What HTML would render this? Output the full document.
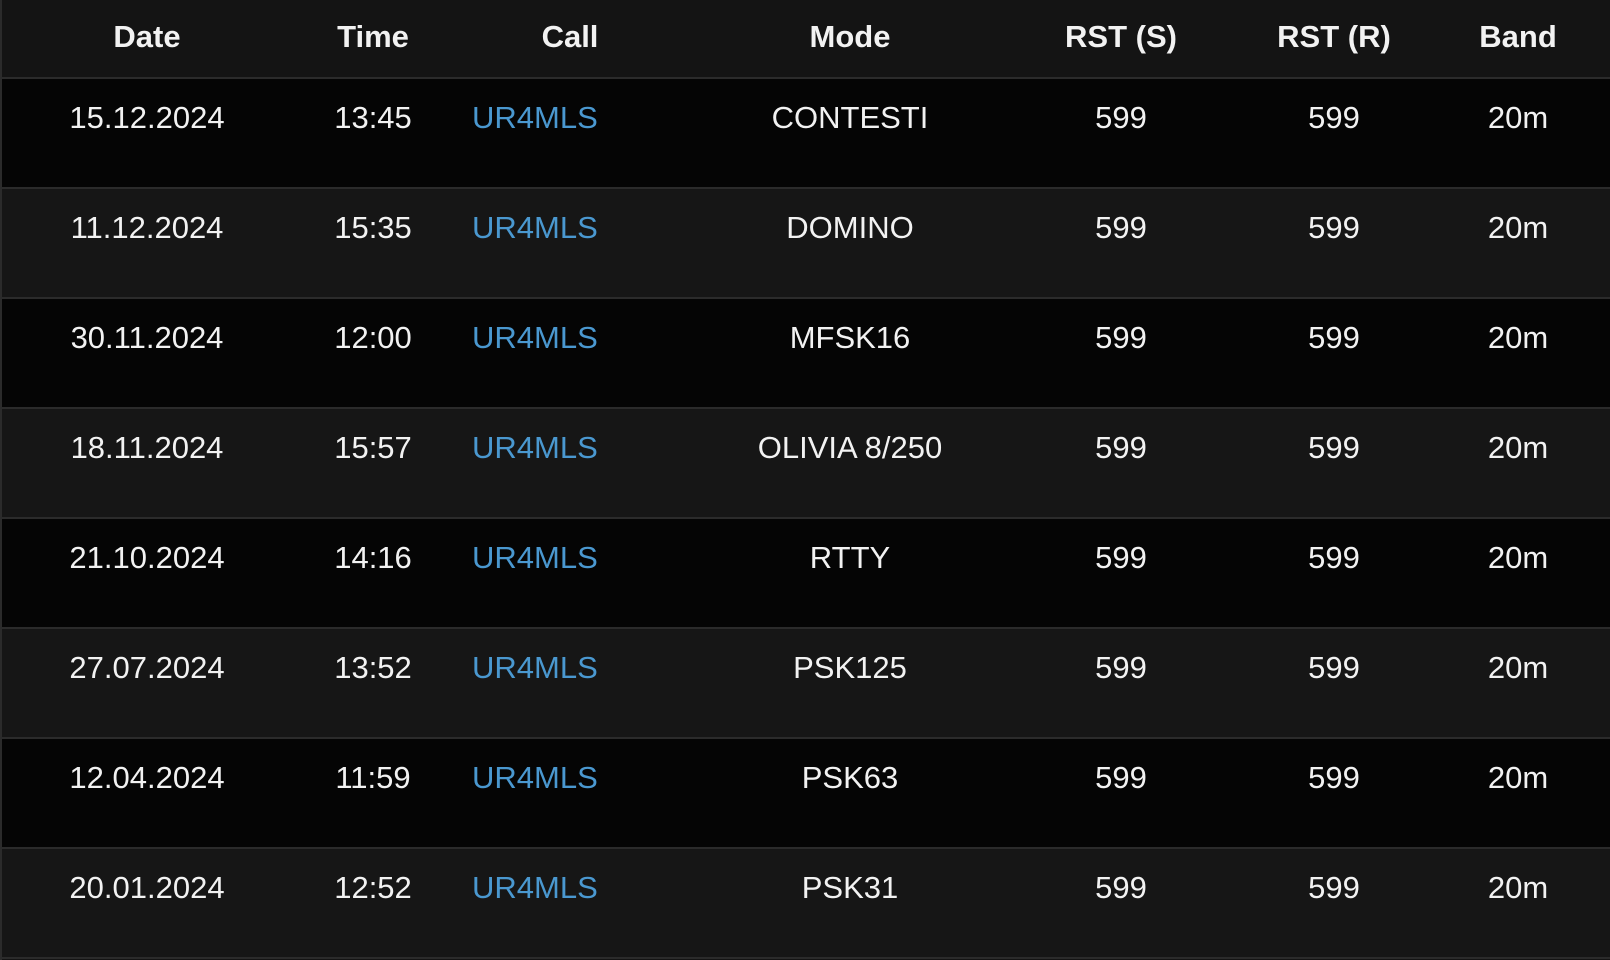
<!DOCTYPE html>
<html><head><meta charset="utf-8"><style>
html,body{margin:0;padding:0;width:1610px;height:960px;background:#141414;overflow:hidden;font-family:"Liberation Sans",Arial,sans-serif;}
#tbl{position:relative;width:1610px;height:960px;border-left:2px solid #2b2b2b;box-sizing:border-box;}
.row{position:absolute;left:0;width:1610px;box-sizing:border-box;border-bottom:2px solid #2b2b2b;}
.hdr{top:0;height:79px;background:#141414;}
.c{position:absolute;white-space:nowrap;color:#f2f2f2;font-size:31px;line-height:34px;transform:translateX(-50%);}
.hdr .c{font-weight:bold;top:20px;}
.data .c{top:22px;}
.call{color:#4a98d0 !important;transform:none !important;}
</style></head><body>
<div id="tbl">
<div class="row hdr">
<span class="c" style="left:145px">Date</span>
<span class="c" style="left:371px">Time</span>
<span class="c" style="left:568px">Call</span>
<span class="c" style="left:848px">Mode</span>
<span class="c" style="left:1119px">RST (S)</span>
<span class="c" style="left:1332px">RST (R)</span>
<span class="c" style="left:1516px">Band</span>
</div>
</div>
<script>
const dates=["15.12.2024","11.12.2024","30.11.2024","18.11.2024","21.10.2024","27.07.2024","12.04.2024","20.01.2024"];
const times=["13:45","15:35","12:00","15:57","14:16","13:52","11:59","12:52"];
const modes=["CONTESTI","DOMINO","MFSK16","OLIVIA 8/250","RTTY","PSK125","PSK63","PSK31"];
const tbl=document.getElementById('tbl');
for(let i=0;i<dates.length;i++){
  const r=document.createElement('div');
  r.className='row data';
  r.style.top=(79+i*110)+'px';
  r.style.height='110px';
  r.style.background=i%2===0?'#050505':'#161616';
  
  
  const cells=[[145,dates[i],'date-cell'],[371,times[i],'time-cell'],[470,'UR4MLS','call-link'],[848,modes[i],'mode-cell'],[1119,'599','rst-sent-cell'],[1332,'599','rst-received-cell'],[1516,'20m','band-cell']];
  for(const [x,t,n] of cells){
    const s=document.createElement('span');
    s.className='c'+(n==='call-link'?' call':'');
    s.style.left=x+'px';
    s.textContent=t;
    
    
    r.appendChild(s);
  }
  tbl.appendChild(r);
}
</script>
</body></html>
